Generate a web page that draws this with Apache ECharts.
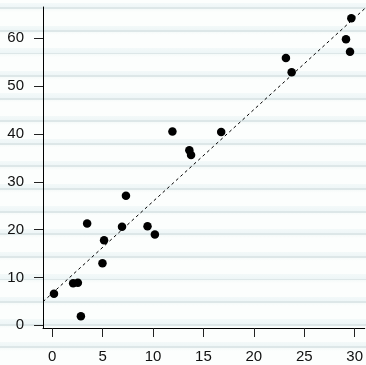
<!DOCTYPE html>
<html>
<head>
<meta charset="utf-8">
<script src="https://cdn.jsdelivr.net/npm/echarts@6/dist/echarts.min.js"></script>
<style>
html,body{margin:0;padding:0;}
#c{width:366px;height:365px;
background-color:#fcfefd;
background-image:repeating-linear-gradient(to bottom,
 rgba(0,0,0,0) 0px, rgba(0,0,0,0) 3px,
 #f3f9f9 3px, #eef6f7 7.3px, #dde7e8 7.3px, #dde7e8 9.1px, #f5faf9 9.1px, rgba(0,0,0,0) 12px,
 rgba(0,0,0,0) 22.6px);
}
</style>
</head>
<body>
<div id="c"></div>
<script>
const xValues = [0.17, 2.07, 2.54, 2.84, 4.98, 5.14, 3.46, 6.92, 7.31, 9.45, 10.18, 11.92, 13.6, 13.77, 16.76, 23.18, 23.75, 29.14, 29.54, 29.67];
const yValues = [6.6, 8.8, 8.9, 1.9, 13.0, 17.8, 21.3, 20.6, 27.1, 20.7, 19.0, 40.5, 36.6, 35.6, 40.4, 55.9, 52.9, 59.8, 57.2, 64.2];
const xTicks = [0, 5, 10, 15, 20, 25, 30];
const yTicks = [0, 10, 20, 30, 40, 50, 60];
const fitIntercept = 6.7;
const fitSlope = 1.92;

const xMin = -0.92, xMax = 31.0, yMin = -0.56, yMax = 66.55;
const points = xValues.map((x, i) => [x, yValues[i]]);
const fitLine = [[xMin, fitIntercept + fitSlope * xMin], [xMax, fitIntercept + fitSlope * xMax]];

const chart = echarts.init(document.getElementById('c'), null, {renderer: 'canvas'});
const axisCommon = {
  axisLine: {show: true, onZero: false, lineStyle: {color: '#000', width: 1}},
  axisTick: {show: true, length: 9, lineStyle: {color: '#222', width: 1}},
  splitLine: {show: false},
};
chart.setOption({
  animation: false,
  grid: {left: 43, right: 0, top: 7, bottom: 37},
  xAxis: Object.assign({}, axisCommon, {
    type: 'value', min: xMin, max: xMax,
    axisTick: Object.assign({}, axisCommon.axisTick, {customValues: xTicks}),
    axisLabel: {customValues: xTicks, margin: 21, fontSize: 15, color: '#111', fontFamily: 'Liberation Sans, Arial, sans-serif'}
  }),
  yAxis: Object.assign({}, axisCommon, {
    type: 'value', min: yMin, max: yMax,
    axisTick: Object.assign({}, axisCommon.axisTick, {customValues: yTicks}),
    axisLabel: {customValues: yTicks, margin: 19, fontSize: 15, color: '#111', fontFamily: 'Liberation Sans, Arial, sans-serif'}
  }),
  series: [
    {
      type: 'line', data: fitLine, symbol: 'none', silent: true,
      lineStyle: {color: '#000', width: 1, type: [3, 3]}
    },
    {
      type: 'scatter', data: points, symbol: 'circle', symbolSize: 8.5,
      itemStyle: {color: '#000', opacity: 1}
    }
  ]
});
</script>
</body>
</html>
